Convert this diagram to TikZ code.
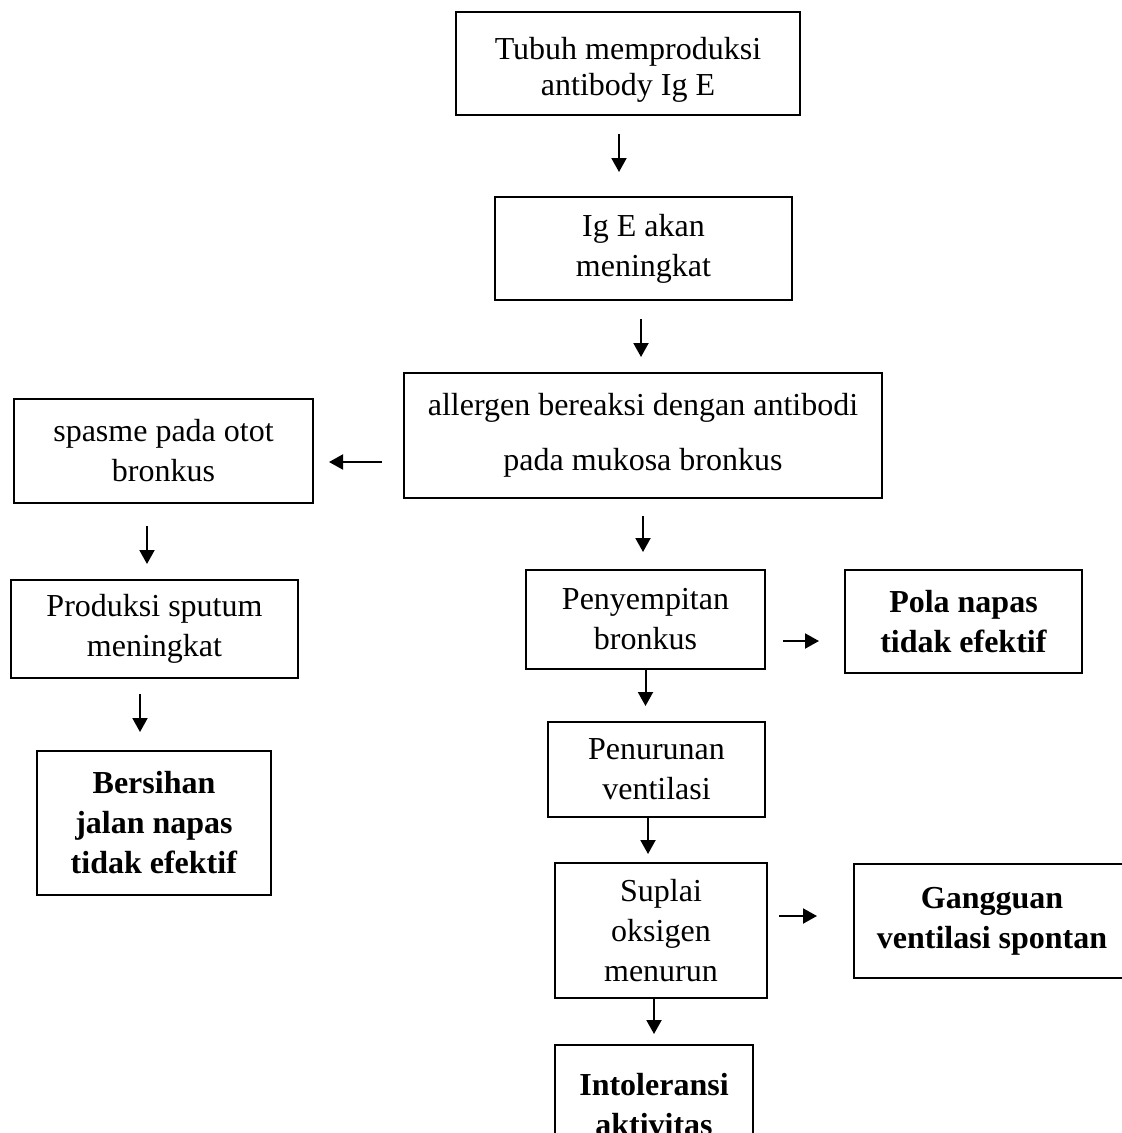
\documentclass[tikz,border=0pt]{standalone}
\usepackage{fontspec}
\setmainfont{Liberation Serif}
\usetikzlibrary{arrows.meta}

\begin{document}
\begin{tikzpicture}[x=1pt,y=-1pt,
    box/.style={draw,line width=2pt,align=center,inner sep=0pt,
      font=\fontsize{32}{40}\selectfont},
    arr/.style={line width=2pt,-{Triangle[length=14pt,width=15pt]}}]
  \useasboundingbox (0,0) rectangle (1122,1133);

  % middle column
  \node[box,minimum width=344,minimum height=103,
    font=\fontsize{32}{36}\selectfont] (tubuh) at (628,63.5)
    {\rule{0pt}{34pt}Tubuh memproduksi\\antibody Ig E};
  \node[box,minimum width=297,minimum height=103] (ige) at (643.5,248.5)
    {Ig E akan\\meningkat};
  \node[box,minimum width=478,minimum height=125,
    font=\fontsize{32}{55}\selectfont] (allergen) at (643,435.5)
    {allergen bereaksi dengan antibodi\\pada mukosa bronkus};

  % left column
  \node[box,minimum width=299,minimum height=104] (spasme) at (163.5,451)
    {spasme pada otot\\bronkus};
  \node[box,minimum width=287,minimum height=98] (sputum) at (154.5,629)
    {Produksi sputum\\meningkat};
  \node[box,minimum width=234,minimum height=144] (bersihan) at (154,823)
    {\textbf{Bersihan}\\\textbf{jalan napas}\\\textbf{tidak efektif}};

  % right column
  \node[box,minimum width=239,minimum height=99] (sempit) at (645.5,619.5)
    {Penyempitan\\bronkus};
  \node[box,minimum width=237,minimum height=103] (pola) at (963.5,621.5)
    {\textbf{Pola napas}\\\textbf{tidak efektif}};
  \node[box,minimum width=217,minimum height=95] (ventil) at (656.5,769.5)
    {Penurunan\\ventilasi};
  \node[box,minimum width=212,minimum height=135] (suplai) at (661,930.5)
    {Suplai\\oksigen\\menurun};
  \node[box,minimum width=276,minimum height=114] (gangguan) at (992,921)
    {\textbf{Gangguan}\\\textbf{ventilasi spontan}};
  \node[box,minimum width=198,minimum height=120] (intoleransi) at (654,1105)
    {\textbf{Intoleransi}\\\textbf{aktivitas}};

  % arrows
  \draw[arr,shorten <=18pt,shorten >=24pt] ([xshift=-9pt]tubuh.south) -- ([xshift=-9pt]tubuh.south |- ige.north);
  \draw[arr,shorten <=18pt,shorten >=15pt] ([xshift=-2.5pt]ige.south) -- ([xshift=-2.5pt]ige.south |- allergen.north);
  \draw[arr,shorten <=21pt,shorten >=15pt] ([yshift=-26.5pt]allergen.west) -- ([yshift=-26.5pt]allergen.west -| spasme.east);
  \draw[arr,shorten <=17pt,shorten >=17pt] (allergen.south) -- (allergen.south |- sempit.north);
  \draw[arr,shorten <=22pt,shorten >=15pt] ([xshift=-16.5pt]spasme.south) -- ([xshift=-16.5pt]spasme.south |- sputum.north);
  \draw[arr,shorten <=15pt,shorten >=18pt] ([xshift=-14.5pt]sputum.south) -- ([xshift=-14.5pt]sputum.south |- bersihan.north);
  \draw[arr,shorten <=17pt,shorten >=25pt] ([yshift=-21.5pt]sempit.east) -- ([yshift=-21.5pt]sempit.east -| pola.west);
  \draw[arr,shorten >=15pt] (sempit.south) -- (sempit.south |- ventil.north);
  \draw[arr,shorten >=8pt] ([xshift=-8.5pt]ventil.south) -- ([xshift=-8.5pt]ventil.south |- suplai.north);
  \draw[arr,shorten <=11pt,shorten >=36pt] ([yshift=14.5pt]suplai.east) -- ([yshift=14.5pt]suplai.east -| gangguan.west);
  \draw[arr,shorten >=10pt] ([xshift=-7pt]suplai.south) -- ([xshift=-7pt]suplai.south |- intoleransi.north);
\end{tikzpicture}
\end{document}
